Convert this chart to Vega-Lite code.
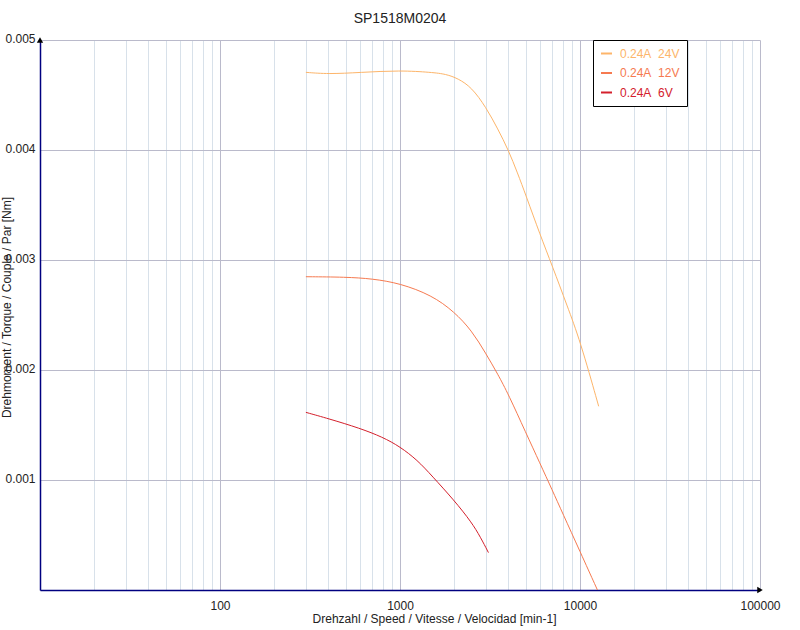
{
  "$schema": "https://vega.github.io/schema/vega-lite/v6.json",
  "width": 720,
  "height": 550,
  "autosize": {"type": "none"},
  "padding": {"left": 40, "top": 40, "right": 40, "bottom": 40},
  "background": "white",
  "title": {"text": "SP1518M0204", "fontSize": 14, "fontWeight": "normal", "font": "Liberation Sans", "color": "#222222", "anchor": "middle", "frame": "group", "baseline": "alphabetic", "offset": -5},
  "config": {"view": {"stroke": null}, "font": "Liberation Sans"},
  "datasets": {
    "curves": [
      {"series": "0.24A\u00a0 24V", "speed": 300, "torque": 0.004706},
      {"series": "0.24A\u00a0 24V", "speed": 400, "torque": 0.00469},
      {"series": "0.24A\u00a0 24V", "speed": 600, "torque": 0.004705},
      {"series": "0.24A\u00a0 24V", "speed": 1000, "torque": 0.004724},
      {"series": "0.24A\u00a0 24V", "speed": 1500, "torque": 0.004706},
      {"series": "0.24A\u00a0 24V", "speed": 1800, "torque": 0.00469},
      {"series": "0.24A\u00a0 24V", "speed": 2100, "torque": 0.00465},
      {"series": "0.24A\u00a0 24V", "speed": 2500, "torque": 0.00457},
      {"series": "0.24A\u00a0 24V", "speed": 3000, "torque": 0.00439},
      {"series": "0.24A\u00a0 24V", "speed": 3500, "torque": 0.00419},
      {"series": "0.24A\u00a0 24V", "speed": 4000, "torque": 0.004},
      {"series": "0.24A\u00a0 24V", "speed": 4500, "torque": 0.00379},
      {"series": "0.24A\u00a0 24V", "speed": 5000, "torque": 0.00359},
      {"series": "0.24A\u00a0 24V", "speed": 6000, "torque": 0.00323},
      {"series": "0.24A\u00a0 24V", "speed": 7000, "torque": 0.00295},
      {"series": "0.24A\u00a0 24V", "speed": 8500, "torque": 0.00258},
      {"series": "0.24A\u00a0 24V", "speed": 10000, "torque": 0.00227},
      {"series": "0.24A\u00a0 24V", "speed": 12700, "torque": 0.00167},
      {"series": "0.24A\u00a0 12V", "speed": 300, "torque": 0.002848},
      {"series": "0.24A\u00a0 12V", "speed": 500, "torque": 0.002845},
      {"series": "0.24A\u00a0 12V", "speed": 700, "torque": 0.00283},
      {"series": "0.24A\u00a0 12V", "speed": 1000, "torque": 0.002788},
      {"series": "0.24A\u00a0 12V", "speed": 1500, "torque": 0.00268},
      {"series": "0.24A\u00a0 12V", "speed": 2000, "torque": 0.00253},
      {"series": "0.24A\u00a0 12V", "speed": 2500, "torque": 0.00236},
      {"series": "0.24A\u00a0 12V", "speed": 3000, "torque": 0.00215},
      {"series": "0.24A\u00a0 12V", "speed": 3500, "torque": 0.00196},
      {"series": "0.24A\u00a0 12V", "speed": 4000, "torque": 0.00178},
      {"series": "0.24A\u00a0 12V", "speed": 5000, "torque": 0.00143},
      {"series": "0.24A\u00a0 12V", "speed": 6000, "torque": 0.00115},
      {"series": "0.24A\u00a0 12V", "speed": 7000, "torque": 0.00091},
      {"series": "0.24A\u00a0 12V", "speed": 8000, "torque": 0.0007},
      {"series": "0.24A\u00a0 12V", "speed": 10000, "torque": 0.00035},
      {"series": "0.24A\u00a0 12V", "speed": 12500, "torque": 0.0},
      {"series": "0.24A\u00a0 6V", "speed": 300, "torque": 0.001615},
      {"series": "0.24A\u00a0 6V", "speed": 400, "torque": 0.001558},
      {"series": "0.24A\u00a0 6V", "speed": 600, "torque": 0.00147},
      {"series": "0.24A\u00a0 6V", "speed": 800, "torque": 0.00139},
      {"series": "0.24A\u00a0 6V", "speed": 1000, "torque": 0.001303},
      {"series": "0.24A\u00a0 6V", "speed": 1250, "torque": 0.00118},
      {"series": "0.24A\u00a0 6V", "speed": 1500, "torque": 0.00104},
      {"series": "0.24A\u00a0 6V", "speed": 2000, "torque": 0.000815},
      {"series": "0.24A\u00a0 6V", "speed": 2500, "torque": 0.000615},
      {"series": "0.24A\u00a0 6V", "speed": 2800, "torque": 0.00048},
      {"series": "0.24A\u00a0 6V", "speed": 3100, "torque": 0.00034}
    ],
    "arrows": [
      {"speed": 100000, "torque": 0, "shape": "triangle-right"},
      {"speed": 10, "torque": 0.005, "shape": "triangle-up"}
    ]
  },
  "layer": [
    {
      "data": {"name": "curves"},
      "mark": {"type": "line", "interpolate": "basis", "strokeWidth": 1, "clip": true},
      "encoding": {
        "x": {
          "field": "speed", "type": "quantitative",
          "scale": {"type": "log", "domain": [10, 100000], "nice": false},
          "axis": {
            "title": "Drehzahl / Speed / Vitesse / Velocidad [min-1]",
            "values": [10, 20, 30, 40, 50, 60, 70, 80, 90, 100, 200, 300, 400, 500, 600, 700, 800, 900, 1000, 2000, 3000, 4000, 5000, 6000, 7000, 8000, 9000, 10000, 20000, 30000, 40000, 50000, 60000, 70000, 80000, 90000, 100000],
            "labelExpr": "indexof([100, 1000, 10000, 100000], datum.value) >= 0 ? format(datum.value, 'd') : ''",
            "grid": true,
            "gridColor": {"condition": {"test": "indexof([10, 100, 1000, 10000, 100000], datum.value) >= 0", "value": "#babacb"}, "value": "#d8e1ea"},
            "ticks": false,
            "domainColor": "#000080",
            "domainWidth": 1.5,
            "labelFontSize": 12,
            "labelColor": "#222222",
            "labelPadding": 10,
            "labelBaseline": "top",
            "labelFlush": false,
            "labelOverlap": false,
            "titleFontSize": 12,
            "titleFontWeight": "normal",
            "titleColor": "#222222",
            "titleX": 394,
            "titleY": 23,
            "titleBaseline": "top",
            "titleAlign": "center"
          }
        },
        "y": {
          "field": "torque", "type": "quantitative",
          "scale": {"domain": [0, 0.005], "nice": false},
          "axis": {
            "title": "Drehmoment / Torque / Couple / Par [Nm]",
            "values": [0.001, 0.002, 0.003, 0.004, 0.005],
            "format": ".3f",
            "grid": true,
            "gridColor": "#babacb",
            "ticks": false,
            "domainColor": "#000080",
            "domainWidth": 1.5,
            "labelFontSize": 12,
            "labelColor": "#222222",
            "labelPadding": 5,
            "labelBaseline": "alphabetic",
            "labelOffset": 2,
            "titleFontSize": 12,
            "titleFontWeight": "normal",
            "titleColor": "#222222",
            "titleX": -30,
            "titleY": 267,
            "titleAngle": -90,
            "titleAlign": "center",
            "titleBaseline": "alphabetic"
          }
        },
        "color": {
          "field": "series", "type": "nominal",
          "scale": {"domain": ["0.24A\u00a0 24V", "0.24A\u00a0 12V", "0.24A\u00a0 6V"], "range": ["#fdb56a", "#f67a50", "#d4202c"]},
          "legend": {
            "title": null,
            "orient": "none",
            "legendX": 553,
            "legendY": 0,
            "strokeColor": "black",
            "fillColor": "white",
            "padding": 7,
            "symbolType": "stroke",
            "symbolSize": 121,
            "symbolStrokeWidth": 2,
            "labelFontSize": 12,
            "labelFont": "Liberation Sans",
            "labelOffset": 7,
            "rowPadding": 6.5,
            "encode": {
              "labels": {"update": {"fill": {"scale": "color", "field": "value"}}}
            }
          }
        }
      }
    },
    {
      "data": {"name": "arrows"},
      "mark": {"type": "point", "filled": true, "color": "black", "size": 40, "opacity": 1},
      "encoding": {
        "x": {"field": "speed", "type": "quantitative"},
        "y": {"field": "torque", "type": "quantitative"},
        "shape": {"field": "shape", "type": "nominal", "scale": null}
      }
    }
  ]
}
